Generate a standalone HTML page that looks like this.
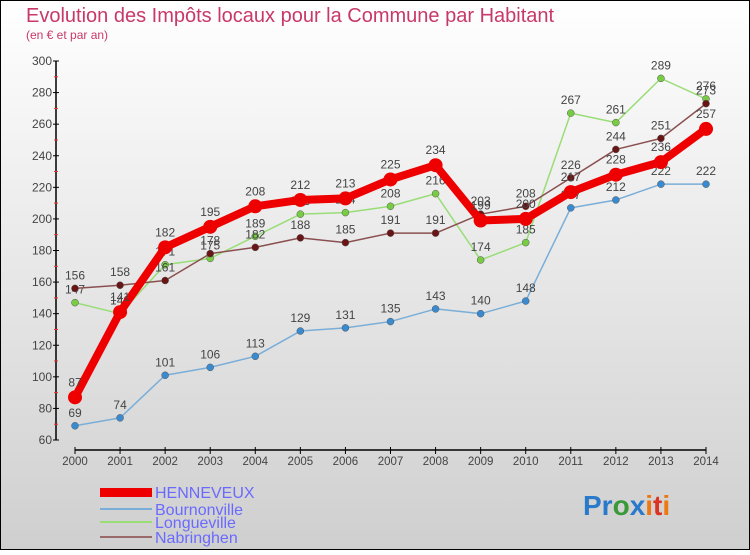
<!DOCTYPE html>
<html><head><meta charset="utf-8"><style>
html,body{margin:0;padding:0}
body{width:750px;height:550px;overflow:hidden;font-family:"Liberation Sans",sans-serif}
</style></head><body>
<svg id="chart" width="750" height="550" xmlns="http://www.w3.org/2000/svg" font-family="Liberation Sans, sans-serif">
<defs><linearGradient id="bg" x1="0" y1="0" x2="0" y2="1"><stop offset="0" stop-color="#ffffff"/><stop offset="1" stop-color="#cfcfcf"/></linearGradient></defs>
<rect x="0.5" y="0.5" width="749" height="549" fill="url(#bg)" stroke="#000"/>
<text x="26" y="22" font-size="20" fill="#c8386a">Evolution des Impôts locaux pour la Commune par Habitant</text>
<text x="26" y="39" font-size="12" fill="#c8386a">(en € et par an)</text>
<g id="axes"></g>
<g id="series"></g>
<g>
<rect x="100" y="488" width="52" height="9" fill="#e00"/>
<text x="155" y="498" font-size="16" fill="#6a6aff">HENNEVEUX</text>
<line x1="100" y1="509" x2="152" y2="509" stroke="#7aaed8" stroke-width="2"/>
<text x="155" y="515" font-size="16" fill="#6a6aff">Bournonville</text>
<line x1="100" y1="522" x2="152" y2="522" stroke="#99dd77" stroke-width="2"/>
<text x="155" y="528" font-size="16" fill="#6a6aff">Longueville</text>
<line x1="100" y1="537" x2="152" y2="537" stroke="#9a6a6a" stroke-width="2"/>
<text x="155" y="543" font-size="16" fill="#6a6aff">Nabringhen</text>
</g>
<g font-size="28" font-weight="bold">
<text x="583" y="515"><tspan fill="#2a7acc">Pr</tspan><tspan fill="#3a9a3a">o</tspan><tspan fill="#2a7acc">x</tspan><tspan fill="#ee7711">i</tspan><tspan fill="#dd3322">t</tspan><tspan fill="#ee7711">i</tspan></text>
</g>
</svg>
<script>
const years = [2000,2001,2002,2003,2004,2005,2006,2007,2008,2009,2010,2011,2012,2013,2014];
const henneveux = [87,141,182,195,208,212,213,225,234,199,200,217,228,236,257];
const bournonville = [69,74,101,106,113,129,131,135,143,140,148,207,212,222,222];
const longueville = [147,140,171,175,189,203,204,208,216,174,185,267,261,289,276];
const nabringhen = [156,158,161,178,182,188,185,191,191,203,208,226,244,251,273];
const yTicks = [60,80,100,120,140,160,180,200,220,240,260,280,300];

const NS="http://www.w3.org/2000/svg";
const xS = i => 75 + i*(706-75)/(years.length-1);
const yS = v => 440 - (v-60)*(440-61)/240;
function mk(tag, attrs, parent){const e=document.createElementNS(NS,tag);for(const k in attrs)e.setAttribute(k,attrs[k]);parent.appendChild(e);return e;}
const axes=document.getElementById('axes'), series=document.getElementById('series');

let yl=mk('line',{x1:56,y1:61,x2:56,y2:440,stroke:'#000','stroke-width':1.5},axes);


yTicks.forEach(t=>{
  const y=yS(t);
  let tk=mk('line',{x1:53,y1:y,x2:59,y2:y,stroke:'#000'},axes);
  
  
  let lb=mk('text',{x:52,y:y+4,'font-size':12,'text-anchor':'end',fill:'#444'},axes);
  lb.textContent=t;
  
  
  if(t<300){let m=mk('line',{x1:54,y1:yS(t+10),x2:58,y2:yS(t+10),stroke:'#e33'},axes);
  
  }
});
let xl=mk('line',{x1:75,y1:450,x2:706,y2:450,stroke:'#000','stroke-width':1.5},axes);


years.forEach((yr,i)=>{
  const x=xS(i);
  let tk=mk('line',{x1:x,y1:447,x2:x,y2:454,stroke:'#000'},axes);
  
  
  let lb=mk('text',{x:x,y:465,'font-size':11.5,'text-anchor':'middle',fill:'#444'},axes);
  lb.textContent=yr;
  
  
});

function draw(vals,name,color,w,r,dot){
  const g=mk('g',{},series);
  
  
  const pl=mk('polyline',{points:vals.map((v,i)=>xS(i)+','+yS(v)).join(' '),fill:'none',stroke:color,'stroke-width':w,'stroke-linejoin':'round'},g);
  
  
  vals.forEach((v,i)=>{
    const c=mk('circle',{cx:xS(i),cy:yS(v),r:r,fill:dot,stroke:'#555','stroke-width':r>5?0:0.5},g);
    
    
    const t=mk('text',{x:xS(i),y:yS(v)-(r>5?11:9),'font-size':12,'text-anchor':'middle',fill:'#444'},g);
    t.textContent=v;
    
    
  });
}
draw(bournonville,'bournonville','#7aaed8',1.5,3.5,'#3a8ad0');
draw(longueville,'longueville','#99dd77',1.5,3.5,'#77cc44');
draw(nabringhen,'nabringhen','#8a5050',1.5,3.5,'#6a1515');
draw(henneveux,'henneveux','#ee0000',8,7,'#ee0000');
</script>
</body></html>
